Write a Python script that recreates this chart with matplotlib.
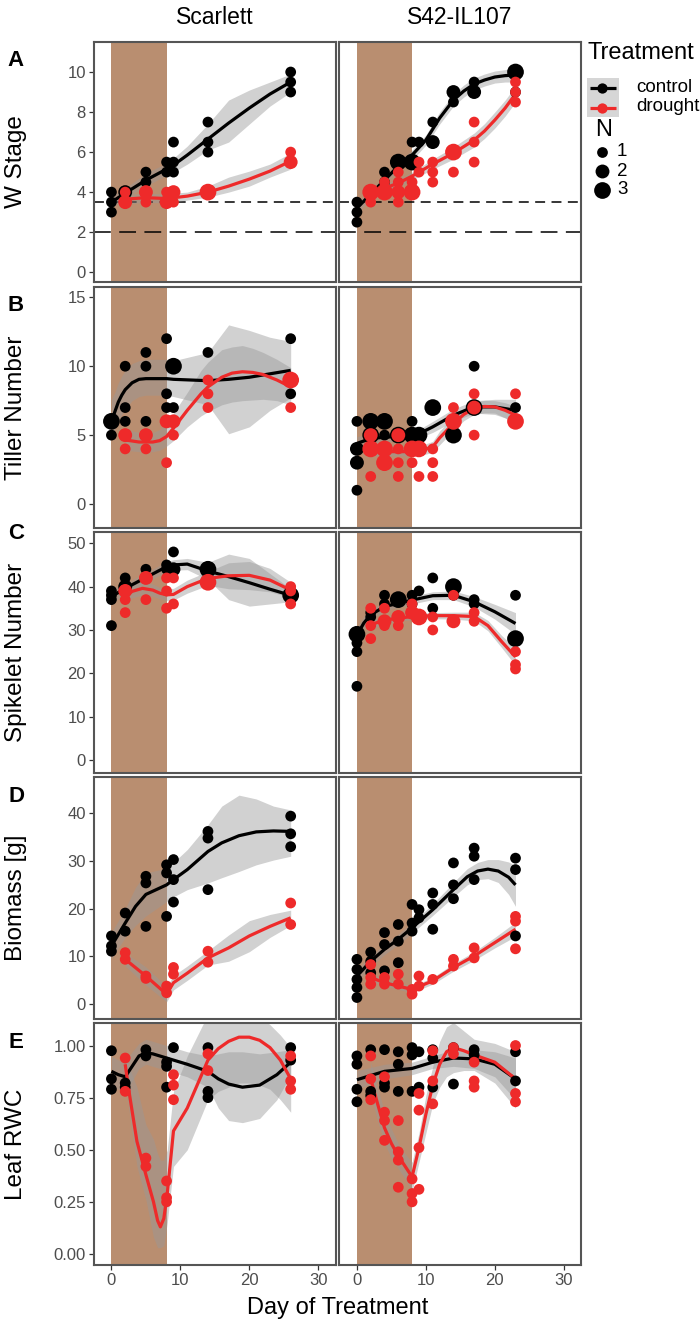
import numpy as np
import matplotlib
matplotlib.use('Agg')
import matplotlib.pyplot as plt

plt.rcParams['font.family'] = ['Liberation Sans', 'DejaVu Sans']

# ---- data: points are (day, value, N); fits are (day, fit, lower, upper) ----
genotypes = ['Scarlett', 'S42-IL107']
treatments = ['control', 'drought']
row_labels = ['W Stage', 'Tiller Number', 'Spikelet Number', 'Biomass [g]', 'Leaf RWC']
panel_letters = ['A', 'B', 'C', 'D', 'E']
stress_days = (0, 8)
ws_thresholds = [3.5, 2.0]

# W stage
ws_sc_ctrl = [(0, 4.0, 1), (0, 3.5, 1), (0, 3.0, 1), (2, 4.0, 2), (5, 5.0, 1), (5, 4.5, 1),
              (8, 5.5, 1), (8, 5.0, 1), (9, 6.5, 1), (9, 5.5, 1), (9, 5.0, 1),
              (14, 7.5, 1), (14, 6.5, 1), (14, 6.0, 1), (26, 10.0, 1), (26, 9.5, 1), (26, 9.0, 1)]
ws_sc_drou = [(2, 4.0, 1), (2, 3.5, 2), (5, 4.0, 2), (5, 3.5, 1), (8, 4.0, 1), (8, 3.5, 2),
              (9, 4.0, 2), (9, 3.5, 1), (14, 4.0, 3), (26, 6.0, 1), (26, 5.5, 2)]
ws_sc_ctrl_fit = [(0, 3.5, 3.2, 3.8), (2, 3.95, 3.7, 4.2), (5, 4.6, 4.3, 4.95), (8, 5.15, 4.85, 5.45),
                  (9, 5.35, 5.0, 5.7), (11, 5.85, 5.4, 6.3), (14, 6.65, 6.1, 7.4), (17, 7.45, 6.5, 8.6),
                  (20, 8.2, 7.4, 9.1), (23, 8.9, 8.3, 9.5), (26, 9.5, 9.0, 9.9)]
ws_sc_drou_fit = [(2, 3.65, 3.4, 3.9), (5, 3.72, 3.5, 3.95), (8, 3.68, 3.45, 3.9), (9, 3.72, 3.5, 3.95),
                  (11, 3.8, 3.6, 4.0), (14, 4.0, 3.75, 4.3), (17, 4.3, 4.0, 4.75), (20, 4.65, 4.3, 5.05),
                  (23, 5.05, 4.75, 5.4), (26, 5.55, 5.15, 5.95)]
ws_il_ctrl = [(0, 3.5, 1), (0, 3.0, 1), (0, 2.5, 1), (2, 4.0, 2), (4, 5.0, 1), (4, 4.5, 1),
              (6, 5.5, 3), (8, 6.5, 1), (8, 5.5, 3), (9, 6.5, 1), (11, 7.5, 1), (11, 6.5, 2),
              (14, 9.0, 2), (14, 8.5, 1), (17, 9.5, 1), (17, 9.0, 2), (23, 10.0, 3), (23, 9.0, 1)]
ws_il_drou = [(2, 4.0, 3), (2, 3.5, 1), (4, 4.5, 1), (4, 4.0, 3), (6, 5.0, 1), (6, 4.5, 1),
              (6, 4.0, 2), (6, 3.5, 1), (8, 4.5, 1), (8, 4.0, 3), (9, 5.5, 1), (9, 5.0, 1),
              (11, 5.5, 1), (11, 5.0, 1), (11, 4.5, 1), (14, 6.0, 3), (14, 5.0, 1),
              (17, 7.5, 1), (17, 6.5, 1), (17, 5.5, 1), (23, 9.5, 1), (23, 9.0, 1), (23, 8.5, 1)]
ws_il_ctrl_fit = [(0, 3.2, 2.9, 3.5), (2, 3.9, 3.7, 4.1), (4, 4.6, 4.4, 4.8), (6, 5.3, 5.1, 5.5),
                  (8, 5.85, 5.6, 6.1), (10, 6.6, 6.35, 6.85), (12, 7.7, 7.4, 8.0), (14, 8.6, 8.3, 8.9),
                  (15.5, 9.05, 8.75, 9.35), (17, 9.4, 9.1, 9.7), (18.5, 9.6, 9.3, 9.9),
                  (20, 9.75, 9.45, 10.05), (21.5, 9.82, 9.5, 10.12), (23, 9.85, 9.5, 10.2)]
ws_il_drou_fit = [(2, 3.95, 3.75, 4.15), (4, 4.2, 4.0, 4.4), (6, 4.45, 4.25, 4.65), (8, 4.8, 4.6, 5.0),
                  (11, 5.4, 5.15, 5.65), (14, 5.95, 5.65, 6.25), (17, 6.6, 6.25, 6.95),
                  (18.5, 7.05, 6.68, 7.42), (20, 7.6, 7.2, 8.0), (21.5, 8.2, 7.8, 8.6), (23, 8.9, 8.5, 9.3)]

# Tiller number
tn_sc_ctrl = [(0, 6, 3), (0, 5, 1), (2, 10, 1), (2, 7, 1), (2, 6, 1), (5, 11, 1), (5, 10, 1), (5, 6, 1),
              (8, 12, 1), (8, 8, 1), (8, 7, 1), (9, 10, 3), (9, 7, 1), (14, 11, 1), (26, 12, 1), (26, 8, 1)]
tn_sc_drou = [(2, 5, 2), (2, 4, 1), (5, 5, 2), (5, 4, 1), (8, 6, 2), (8, 3, 1), (9, 6, 2), (9, 5, 1),
              (14, 9, 1), (14, 8, 1), (14, 7, 1), (26, 9, 3), (26, 7, 1)]
tn_sc_ctrl_fit = [(0, 6.0, 4.8, 7.6), (0.5, 6.7, 5.4, 8.1), (1, 7.4, 6.0, 8.8), (1.5, 7.9, 6.5, 9.3),
                  (2, 8.3, 6.9, 9.7), (3, 8.8, 7.5, 10.2), (4, 9.05, 7.8, 10.4),
                  (5, 9.1, 7.9, 10.5), (8, 9.1, 7.9, 10.5), (9, 9.05, 7.8, 10.4), (14, 8.95, 7.2, 11.0),
                  (17, 9.05, 5.1, 13.0), (20, 9.2, 5.6, 12.6), (23, 9.45, 6.8, 12.1), (26, 9.7, 7.7, 11.8)]
tn_sc_drou_fit = [(2, 4.65, 3.9, 5.4), (4, 4.5, 3.8, 5.2), (6, 4.5, 3.8, 5.2), (7, 4.6, 3.9, 5.4),
                  (8, 4.9, 4.2, 5.9), (9, 5.5, 4.6, 6.6), (11, 6.8, 5.6, 8.1), (13, 8.0, 6.4, 9.7),
                  (14, 8.5, 6.7, 10.3), (16, 9.2, 7.2, 11.2), (17.5, 9.5, 7.4, 11.4), (19, 9.6, 7.5, 11.5),
                  (20.5, 9.55, 7.55, 11.3), (22, 9.4, 7.6, 11.0), (24, 9.0, 7.5, 10.5), (26, 8.5, 7.2, 9.9)]
tn_il_ctrl = [(0, 6, 1), (0, 4, 2), (0, 3, 2), (0, 1, 1), (2, 6, 3), (2, 5, 3), (4, 6, 3), (4, 5, 1),
              (6, 5, 3), (8, 6, 1), (8, 5, 3), (9, 5, 3), (11, 7, 3), (14, 5, 3), (17, 10, 1),
              (17, 7, 3), (23, 7, 1)]
tn_il_drou = [(2, 5, 2), (2, 4, 3), (2, 2, 1), (4, 4, 3), (4, 3, 3), (6, 5, 2), (6, 4, 1), (6, 3, 1),
              (6, 2, 1), (8, 4, 3), (8, 3, 1), (9, 4, 3), (9, 2, 1), (11, 4, 1), (11, 3, 1), (11, 2, 1),
              (14, 7, 1), (14, 6, 3), (17, 8, 1), (17, 7, 2), (17, 5, 1), (23, 8, 1), (23, 6, 3)]
tn_il_ctrl_fit = [(0, 4.4, 3.9, 4.9), (2, 4.75, 4.4, 5.1), (4, 4.85, 4.5, 5.2), (6, 4.9, 4.6, 5.2),
                  (9, 5.1, 4.8, 5.4), (11, 5.6, 5.2, 6.0), (14, 6.45, 6.0, 6.9), (17, 7.05, 6.6, 7.5),
                  (20, 7.05, 6.5, 7.6), (23, 6.8, 6.0, 7.6)]
tn_il_drou_fit = [(2, 3.9, 3.5, 4.3), (4, 3.8, 3.5, 4.1), (6, 3.8, 3.5, 4.1), (8, 3.8, 3.5, 4.1),
                  (9, 3.85, 3.5, 4.2), (11, 4.15, 3.75, 4.55), (12, 4.8, 4.3, 5.3), (14, 5.85, 5.35, 6.35),
                  (15.5, 6.5, 6.05, 6.95), (17, 6.95, 6.5, 7.4), (18.5, 7.08, 6.62, 7.52),
                  (20, 7.05, 6.6, 7.5), (21.5, 6.8, 6.25, 7.35), (23, 6.45, 5.8, 7.1)]

# Spikelet number
sn_sc_ctrl = [(0, 39, 1), (0, 38, 1), (0, 37, 1), (0, 31, 1), (2, 42, 1), (2, 40, 2), (5, 44, 1),
              (5, 42, 1), (8, 45, 1), (8, 44, 1), (9, 48, 1), (9, 44, 2), (14, 44, 3), (26, 38, 3)]
sn_sc_drou = [(2, 39, 2), (2, 37, 1), (2, 34, 1), (5, 42, 2), (5, 37, 1), (8, 42, 1), (8, 39, 1),
              (8, 35, 1), (9, 42, 1), (9, 36, 1), (14, 41, 3), (26, 40, 1), (26, 39, 1), (26, 36, 1)]
sn_sc_ctrl_fit = [(0, 37.7, 36.0, 39.4), (2, 39.6, 38.4, 40.8), (5, 42.1, 41.0, 43.2), (8, 44.6, 43.4, 45.8),
                  (9, 45.0, 43.8, 46.2), (11, 45.2, 43.9, 46.5), (14, 43.6, 41.6, 45.6), (17, 42.3, 37.0, 47.5),
                  (20, 40.9, 35.5, 46.5), (23, 39.4, 36.0, 43.0), (26, 38.0, 36.5, 39.5)]
sn_sc_drou_fit = [(2, 37.7, 36.0, 39.4), (3, 38.9, 37.4, 40.4), (4.5, 39.6, 38.1, 41.1), (6, 39.2, 37.8, 40.6),
                  (7, 38.5, 37.2, 39.8), (8, 38.1, 36.8, 39.5), (9, 38.2, 36.9, 39.6), (11, 40.0, 38.5, 41.5),
                  (14, 41.9, 40.3, 43.5), (17, 42.5, 39.5, 45.5), (20, 42.6, 39.3, 45.8),
                  (23, 41.5, 38.8, 44.2), (26, 39.2, 37.5, 41.0)]
sn_il_ctrl = [(0, 29, 3), (0, 27, 1), (0, 25, 1), (0, 17, 1), (2, 34, 1), (2, 33, 1), (4, 38, 1),
              (4, 36, 1), (6, 37, 3), (8, 38, 1), (8, 36, 1), (9, 39, 1), (11, 42, 1), (11, 35, 1),
              (14, 40, 3), (14, 38, 1), (17, 37, 1), (17, 36, 1), (23, 38, 1), (23, 28, 3)]
sn_il_drou = [(2, 35, 1), (2, 31, 1), (2, 28, 1), (4, 35, 1), (4, 32, 2), (4, 31, 1), (6, 33, 2),
              (6, 31, 1), (8, 36, 1), (8, 34, 2), (9, 33, 3), (11, 33, 1), (11, 30, 1), (14, 38, 1),
              (14, 32, 2), (17, 34, 1), (17, 32, 1), (23, 25, 1), (23, 22, 1), (23, 21, 1)]
sn_il_ctrl_fit = [(0, 28.8, 27.0, 30.6), (1, 31.6, 30.1, 33.1), (2, 33.5, 32.2, 34.8), (4, 35.4, 34.4, 36.4),
                  (8, 36.9, 36.0, 37.8), (11, 37.9, 37.0, 38.8), (14, 38.0, 37.0, 39.0),
                  (17, 36.5, 35.3, 37.7), (20, 34.2, 32.5, 35.9), (23, 31.5, 29.0, 34.0)]
sn_il_drou_fit = [(2, 31.2, 30.0, 32.4), (4, 32.3, 31.5, 33.1), (8, 33.1, 32.4, 33.8), (11, 33.3, 32.6, 34.0),
                  (14, 33.3, 32.5, 34.1), (17, 33.1, 32.1, 34.1), (19, 31.0, 29.8, 32.2),
                  (21, 27.3, 25.9, 28.7), (23, 23.8, 21.8, 25.8)]

# Biomass
bm_sc_ctrl = [(0, 14.3, 1), (0, 12.2, 1), (0, 11.1, 1), (2, 19.1, 1), (2, 15.3, 1), (5, 26.8, 1),
              (5, 25.4, 1), (5, 16.3, 1), (8, 29.2, 1), (8, 27.5, 1), (8, 18.4, 1), (9, 30.3, 1),
              (9, 26.1, 1), (9, 21.4, 1), (14, 36.2, 1), (14, 34.8, 1), (14, 24.0, 1),
              (26, 39.4, 1), (26, 35.7, 1), (26, 33.0, 1)]
bm_sc_drou = [(2, 10.8, 1), (2, 9.4, 1), (5, 5.9, 1), (5, 5.4, 1), (8, 3.8, 1), (8, 2.4, 1),
              (9, 7.7, 1), (9, 6.3, 1), (14, 11.1, 1), (14, 8.8, 1), (26, 21.2, 1), (26, 16.7, 1)]
bm_sc_ctrl_fit = [(0, 12.2, 9.5, 15.0), (2, 17.0, 14.0, 20.0), (3.5, 20.5, 16.5, 24.5), (5, 23.0, 18.5, 27.5),
                  (8, 25.0, 21.5, 28.5), (9, 26.1, 22.5, 29.7), (11, 28.2, 24.0, 32.4),
                  (14, 32.0, 25.4, 37.6), (16, 33.8, 26.5, 41.5), (18.5, 35.3, 27.8, 43.8),
                  (21, 36.1, 29.2, 43.0), (23.5, 36.3, 30.2, 41.5), (26, 36.2, 31.0, 40.7)]
bm_sc_drou_fit = [(2, 9.4, 8.0, 10.8), (5, 5.9, 4.0, 7.8), (8, 2.1, 0.5, 3.7), (9, 4.5, 3.0, 6.0),
                  (11, 6.5, 5.0, 8.0), (14, 9.7, 8.2, 11.2), (17, 11.8, 9.0, 14.5), (20, 14.3, 11.0, 17.5),
                  (23, 16.3, 14.0, 18.8), (26, 18.1, 16.5, 19.7)]
bm_il_ctrl = [(0, 9.4, 1), (0, 7.3, 1), (0, 5.2, 1), (0, 3.5, 1), (0, 1.4, 1), (2, 10.9, 1), (2, 9.0, 1),
              (2, 6.6, 1), (4, 15.0, 1), (4, 12.5, 1), (4, 7.0, 1), (6, 16.7, 1), (6, 13.2, 1), (6, 8.7, 1),
              (8, 20.9, 1), (8, 17.0, 1), (8, 15.3, 1), (9, 19.8, 1), (9, 18.1, 1), (11, 23.3, 1),
              (11, 20.9, 1), (11, 15.7, 1), (14, 29.6, 1), (14, 25.0, 1), (14, 22.1, 1), (17, 32.7, 1),
              (17, 31.0, 1), (17, 26.1, 1), (23, 30.6, 1), (23, 28.2, 1), (23, 14.3, 1)]
bm_il_drou = [(2, 8.3, 1), (2, 5.6, 1), (2, 4.2, 1), (4, 5.6, 1), (4, 4.2, 1), (6, 6.3, 1), (6, 4.2, 1),
              (8, 3.1, 1), (8, 2.1, 1), (9, 5.9, 1), (9, 3.8, 1), (11, 5.2, 1), (14, 9.4, 1), (14, 8.0, 1),
              (17, 11.8, 1), (17, 9.7, 1), (23, 18.4, 1), (23, 17.4, 1), (23, 11.6, 1)]
bm_il_ctrl_fit = [(0, 5.9, 4.5, 7.3), (2, 9.0, 7.8, 10.2), (4, 11.5, 10.4, 12.6), (6, 13.6, 12.5, 14.7),
                  (8, 16.0, 14.9, 17.1), (11, 19.8, 18.6, 21.0), (14, 24.0, 22.5, 25.5), (16, 26.7, 25.0, 28.4),
                  (17.5, 27.9, 26.1, 29.7), (19, 28.3, 26.3, 30.3), (20.5, 27.9, 25.5, 30.3),
                  (22, 26.6, 23.0, 29.8), (23, 25.0, 20.5, 29.0)]
bm_il_drou_fit = [(2, 5.6, 4.8, 6.4), (4, 4.5, 3.8, 5.2), (6, 3.8, 3.1, 4.5), (8, 3.1, 2.4, 3.8),
                  (11, 4.9, 4.2, 5.6), (14, 7.7, 6.9, 8.5), (17, 10.1, 9.2, 11.0), (20, 12.9, 11.8, 14.0),
                  (23, 15.7, 14.2, 17.2)]

# Leaf RWC
rwc_sc_ctrl = [(0, 0.975, 1), (0, 0.84, 1), (0, 0.79, 1), (2, 0.82, 1), (2, 0.80, 1), (5, 0.98, 1),
               (5, 0.95, 1), (8, 0.92, 1), (8, 0.90, 1), (8, 0.80, 1), (9, 0.99, 1), (14, 0.99, 1),
               (14, 0.78, 1), (14, 0.75, 1), (26, 0.99, 1), (26, 0.93, 1)]
rwc_sc_drou = [(2, 0.94, 1), (2, 0.78, 1), (5, 0.46, 1), (5, 0.42, 1), (8, 0.35, 1), (8, 0.27, 1),
               (8, 0.25, 1), (9, 0.86, 1), (9, 0.81, 1), (9, 0.74, 1), (14, 0.96, 1), (14, 0.88, 1),
               (26, 0.95, 1), (26, 0.83, 1), (26, 0.79, 1)]
rwc_sc_ctrl_fit = [(0, 0.876, 0.80, 0.95), (1, 0.86, 0.79, 0.93), (2, 0.85, 0.78, 0.92), (3, 0.9, 0.83, 0.97),
                   (4, 0.95, 0.89, 1.01), (5, 0.965, 0.91, 1.03), (6, 0.96, 0.90, 1.02), (8, 0.94, 0.88, 1.0),
                   (9, 0.93, 0.87, 0.99), (11, 0.91, 0.85, 0.97), (14, 0.876, 0.80, 0.95),
                   (15.5, 0.84, 0.70, 0.96), (17, 0.815, 0.64, 0.97), (19, 0.80, 0.63, 0.97),
                   (21.5, 0.81, 0.65, 0.96), (24, 0.86, 0.74, 0.97), (26, 0.92, 0.86, 0.98)]
rwc_sc_drou_fit = [(2, 0.91, 0.85, 0.98), (2.5, 0.79, 0.70, 0.90), (3.7, 0.54, 0.42, 0.80),
                   (5, 0.38, 0.26, 0.62), (6.1, 0.25, 0.08, 0.55), (6.7, 0.16, 0.03, 0.48),
                   (7.1, 0.13, 0.03, 0.45), (7.6, 0.17, 0.04, 0.45), (8.1, 0.29, 0.15, 0.50),
                   (9, 0.59, 0.42, 0.78), (11, 0.70, 0.50, 0.95), (14, 0.93, 0.74, 1.15),
                   (15.5, 0.985, 0.78, 1.15), (17, 1.02, 0.80, 1.15), (18.5, 1.04, 0.82, 1.15),
                   (20, 1.04, 0.82, 1.15), (21.5, 1.025, 0.81, 1.14), (23, 0.99, 0.79, 1.10),
                   (24.5, 0.93, 0.74, 1.05), (26, 0.84, 0.68, 0.99)]
rwc_il_ctrl = [(0, 0.95, 1), (0, 0.91, 1), (0, 0.79, 1), (0, 0.73, 1), (2, 0.98, 1), (2, 0.78, 1),
               (2, 0.76, 1), (4, 0.98, 1), (4, 0.82, 1), (4, 0.80, 1), (6, 0.97, 1), (6, 0.91, 1),
               (6, 0.78, 1), (8, 0.99, 1), (8, 0.955, 1), (8, 0.78, 1), (9, 0.97, 1), (9, 0.80, 1),
               (11, 0.98, 1), (11, 0.94, 1), (11, 0.80, 1), (14, 0.99, 1), (14, 0.815, 1),
               (17, 0.98, 1), (17, 0.955, 1), (23, 0.97, 1), (23, 0.83, 1)]
rwc_il_drou = [(2, 0.95, 1), (2, 0.84, 1), (2, 0.74, 1), (4, 0.85, 1), (4, 0.68, 1), (4, 0.64, 1),
               (4, 0.545, 1), (6, 0.64, 1), (6, 0.49, 1), (6, 0.45, 1), (6, 0.32, 1), (8, 0.36, 1),
               (8, 0.29, 1), (8, 0.25, 1), (9, 0.77, 1), (9, 0.69, 1), (9, 0.51, 1), (9, 0.31, 1),
               (11, 0.975, 1), (11, 0.83, 1), (11, 0.72, 1), (14, 0.99, 1), (14, 0.96, 1),
               (17, 0.92, 1), (17, 0.83, 1), (17, 0.80, 1), (23, 1.0, 1), (23, 0.77, 1), (23, 0.73, 1)]
rwc_il_ctrl_fit = [(0, 0.836, 0.79, 0.88), (4, 0.876, 0.84, 0.91), (8, 0.89, 0.86, 0.92), (11, 0.92, 0.89, 0.95),
                   (14, 0.94, 0.90, 0.98), (17, 0.936, 0.89, 0.98), (20, 0.91, 0.85, 0.97),
                   (23, 0.84, 0.74, 0.94)]
rwc_il_drou_fit = [(2, 0.84, 0.76, 0.92), (3, 0.72, 0.64, 0.80), (4, 0.605, 0.53, 0.68), (5, 0.53, 0.46, 0.60),
                   (6, 0.47, 0.41, 0.53), (7, 0.42, 0.36, 0.48), (8, 0.37, 0.30, 0.44), (9, 0.51, 0.44, 0.58),
                   (10, 0.67, 0.58, 0.76), (11, 0.81, 0.72, 0.90), (12, 0.91, 0.80, 1.02),
                   (13, 0.97, 0.85, 1.09), (14, 0.99, 0.87, 1.11), (15.5, 0.975, 0.88, 1.07),
                   (17, 0.955, 0.88, 1.03), (20, 0.92, 0.82, 1.01), (23, 0.84, 0.70, 0.97)]

panels = [
    [(ws_sc_ctrl, ws_sc_drou, ws_sc_ctrl_fit, ws_sc_drou_fit),
     (ws_il_ctrl, ws_il_drou, ws_il_ctrl_fit, ws_il_drou_fit)],
    [(tn_sc_ctrl, tn_sc_drou, tn_sc_ctrl_fit, tn_sc_drou_fit),
     (tn_il_ctrl, tn_il_drou, tn_il_ctrl_fit, tn_il_drou_fit)],
    [(sn_sc_ctrl, sn_sc_drou, sn_sc_ctrl_fit, sn_sc_drou_fit),
     (sn_il_ctrl, sn_il_drou, sn_il_ctrl_fit, sn_il_drou_fit)],
    [(bm_sc_ctrl, bm_sc_drou, bm_sc_ctrl_fit, bm_sc_drou_fit),
     (bm_il_ctrl, bm_il_drou, bm_il_ctrl_fit, bm_il_drou_fit)],
    [(rwc_sc_ctrl, rwc_sc_drou, rwc_sc_ctrl_fit, rwc_sc_drou_fit),
     (rwc_il_ctrl, rwc_il_drou, rwc_il_ctrl_fit, rwc_il_drou_fit)],
]
ylims = [(-0.49, 11.5), (-1.74, 15.75), (-3.0, 52.6), (-3.1, 47.6), (-0.053, 1.108)]
yticks = [[0, 2, 4, 6, 8, 10], [0, 5, 10, 15], [0, 10, 20, 30, 40, 50],
          [0, 10, 20, 30, 40], [0, 0.25, 0.5, 0.75, 1.0]]
ytick_fmt = ['{:g}', '{:g}', '{:g}', '{:g}', '{:.2f}']
xticks = [0, 10, 20, 30]

# ---- style ----
BLACK = '#000000'
RED = '#EE2A2A'
BROWN = '#B98E70'
BAND = '#999999'
FRAME = '#555555'
TXT = '#4D4D4D'
SIZES = {1: 60, 2: 100, 3: 145}
W, H = 700, 1327

fig = plt.figure(figsize=(W / 100, H / 100), dpi=100)
fig.patch.set_facecolor('white')


def px_axes(x0, y0, x1, y1):
    return fig.add_axes([x0 / W, 1 - y1 / H, (x1 - x0) / W, (y1 - y0) / H])


def draw_fit(ax, fit, color):
    d = np.array(fit, dtype=float)
    ax.fill_between(d[:, 0], d[:, 2], d[:, 3], color=BAND, alpha=0.45, lw=0, zorder=2)
    ax.plot(d[:, 0], d[:, 1], color=color, lw=2.3, zorder=3, solid_capstyle='butt',
            solid_joinstyle='round')


def draw_points(ax, pts, color):
    d = np.array(pts, dtype=float)
    ax.scatter(d[:, 0], d[:, 1], s=[SIZES[int(n)] for n in d[:, 2]], color=color,
               linewidths=0, zorder=4)


col_x = [(93.5, 335.5), (339, 581)]
row_y = [(42, 282), (287, 528), (532, 773), (777, 1019), (1023, 1265)]

for r in range(5):
    for c in range(2):
        x0, x1 = col_x[c]
        y0, y1 = row_y[r]
        ax = px_axes(x0, y0, x1, y1)
        ax.axvspan(*stress_days, color=BROWN, lw=0, zorder=0)
        if r == 0:
            ax.axhline(ws_thresholds[0], color='black', lw=1.1, ls=(0, (6.5, 4.2)), zorder=1)
            ax.axhline(ws_thresholds[1], color='black', lw=1.1, ls=(0, (11, 5.5)), zorder=1)
        ctrl, drou, ctrl_fit, drou_fit = panels[r][c]
        draw_fit(ax, ctrl_fit, BLACK)
        draw_fit(ax, drou_fit, RED)
        draw_points(ax, ctrl, BLACK)
        draw_points(ax, drou, RED)
        ax.set_xlim(-2.6, 32.5)
        ax.set_ylim(*ylims[r])
        for sp in ax.spines.values():
            sp.set_color(FRAME)
            sp.set_linewidth(1.5)
        ax.set_yticks(yticks[r])
        ax.set_xticks(xticks)
        ax.tick_params(length=3.5, width=0.9, color='#333333', labelcolor=TXT, labelsize=12,
                       pad=2)
        if c == 0:
            ax.set_yticklabels([ytick_fmt[r].format(v) for v in yticks[r]])
        else:
            ax.tick_params(axis='y', left=False, labelleft=False)
        if r < 4:
            ax.tick_params(axis='x', bottom=False, labelbottom=False)

# column titles, row titles, panel letters
for c, name in enumerate(genotypes):
    xm = (col_x[c][0] + col_x[c][1]) / 2
    fig.text(xm / W, 1 - 18 / H, name, ha='center', va='center', fontsize=16.5, color='black')
for r, lab in enumerate(row_labels):
    ym = (row_y[r][0] + row_y[r][1]) / 2
    fig.text(16 / W, 1 - ym / H, lab, rotation=90, ha='center', va='center', fontsize=17.5,
             color='black')
letter_y = [60, 306, 533, 796, 1042]
for r, let in enumerate(panel_letters):
    fig.text(16 / W, 1 - letter_y[r] / H, let, ha='center', va='center', fontsize=16,
             fontweight='bold', color='black')
fig.text(338 / W, 1 - 1308 / H, 'Day of Treatment', ha='center', va='center', fontsize=17)

# legend drawn in pixel space
lg = fig.add_axes([0, 0, 1, 1], zorder=10)
lg.set_xlim(0, W)
lg.set_ylim(H, 0)
lg.axis('off')
lg.text(588, 53, 'Treatment', ha='left', va='center', fontsize=17)
for i, (lab, col) in enumerate(zip(treatments, [BLACK, RED])):
    yk = 88 + i * 19.5
    lg.add_patch(plt.Rectangle((587, yk - 10), 32, 19.5, color='#D6D6D6', lw=0))
    lg.plot([590, 616], [yk, yk], color=col, lw=2.3, solid_capstyle='butt')
    lg.scatter([602], [yk], s=55, color=col, linewidths=0)
    lg.text(636, yk - 1, lab, ha='left', va='center', fontsize=13.5)
lg.text(595, 130, 'N', ha='left', va='center', fontsize=17)
for i, n in enumerate([1, 2, 3]):
    yk = [152, 171, 190][i]
    lg.scatter([602], [yk], s=SIZES[n], color='black', linewidths=0)
    lg.text(617, yk, str(n), ha='left', va='center', fontsize=13.5)

fig.savefig('out.png', dpi=100, facecolor='white')
